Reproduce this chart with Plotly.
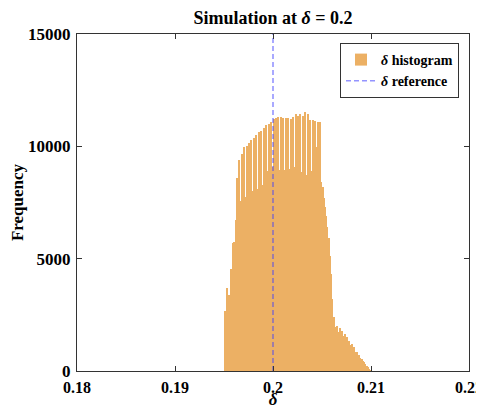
import numpy as np
import plotly.graph_objects as go

# ---- data ----
bin_start = 0.195
bin_width = 0.000125
counts = [
    2650, 2600, 3700, 3350, 3400, 4550, 4500, 5700, 5750, 6700,
    8600, 7450, 9400, 7550, 9650, 7650, 9970, 7750, 10000, 7900,
    10150, 7950, 10280, 8000, 10350, 8050, 10500, 8100, 10640, 8150,
    10700, 8300, 10810, 8600, 10950, 8900, 11000, 9200, 11100, 9100,
    11210, 8950, 11250, 8950, 11300, 8950, 11300, 8900, 11280, 8950,
    11270, 8940, 11250, 9000, 11200, 9080, 11320, 9080, 11440, 9000,
    11350, 9000, 11440, 8860, 11350, 8860, 11510, 8720, 11450, 8720,
    11170, 8900, 11170, 9970, 11120, 9970, 11090, 8860, 11080, 8400,
    8200, 7700, 7300, 6900, 6400, 5900, 5100, 4300, 3200, 2400,
    1950, 1850, 2000, 1750, 1900, 1650, 1800, 1550, 1650, 1400,
    1500, 1280, 1350, 1150, 1200, 1000, 1050, 850, 850, 700,
    700, 580, 540, 450, 380, 300, 230, 160, 90, 30,
]
reference_delta = 0.2
x_ticks = [0.18, 0.19, 0.20, 0.21, 0.22]
x_ticklabels = ["0.18", "0.19", "0.2", "0.21", "0.22"]
y_ticks = [0, 5000, 10000, 15000]
y_ticklabels = ["0", "5000", "10000", "15000"]
x_range = [0.18, 0.22]
y_range = [0, 15000]

centers = bin_start + bin_width * (np.arange(len(counts)) + 0.5)

SERIF = "Liberation Serif, Times New Roman, serif"
bar_color = "rgb(236,176,100)"

# the page puts the figure 8 px in from the top-left corner
W, H = 476, 401

fig = go.Figure()
fig.add_trace(go.Bar(
    x=centers, y=counts, width=bin_width,
    marker=dict(color=bar_color, line=dict(width=0)),
    name="<i>δ</i> histogram",
))
fig.add_trace(go.Scatter(
    x=[reference_delta, reference_delta], y=y_range,
    mode="lines",
    line=dict(color="rgba(60,60,255,0.55)", width=1.6, dash="5px,3px"),
    name="<i>δ</i> reference",
))

axis_common = dict(
    showgrid=False, zeroline=False, showline=True, linecolor="#333333",
    linewidth=1.2, mirror="ticks", ticks="inside", ticklen=5,
    tickcolor="#333333", automargin=False, ticklabeloverflow="allow",
)

fig.update_layout(
    width=W, height=H,
    margin=dict(l=69, r=15, t=26, b=38),
    paper_bgcolor="white", plot_bgcolor="white",
    bargap=0,
    title=dict(
        text="Simulation at <i>δ</i> = 0.2",
        x=0.5, xref="paper", xanchor="center",
        y=1 - 10 / H, yref="container", yanchor="middle",
        font=dict(family=SERIF, size=18, color="black", weight="bold"),
    ),
    xaxis=dict(
        range=x_range, tickvals=x_ticks, ticktext=x_ticklabels,
        ticklabelstandoff=2,
        tickfont=dict(family=SERIF, size=16, color="black", weight="bold"),
        title=dict(text="<i>δ</i>", standoff=10,
                   font=dict(family=SERIF, size=17, color="black", weight="bold")),
        **axis_common,
    ),
    yaxis=dict(
        range=y_range, tickvals=y_ticks, ticktext=y_ticklabels,
        ticklabelstandoff=2,
        tickfont=dict(family=SERIF, size=17, color="black", weight="bold"),
        title=dict(text="Frequency", standoff=1,
                   font=dict(family=SERIF, size=17, color="black", weight="bold")),
        **axis_common,
    ),
    legend=dict(
        x=1 - 10 / 392, xanchor="right", y=1 - 9 / 337, yanchor="top",
        bgcolor="white", bordercolor="#333333", borderwidth=1,
        font=dict(family=SERIF, size=14, color="black", weight="bold"),
        tracegroupgap=0, itemwidth=30,
    ),
    showlegend=True,
)

fig.write_html("out.html")
